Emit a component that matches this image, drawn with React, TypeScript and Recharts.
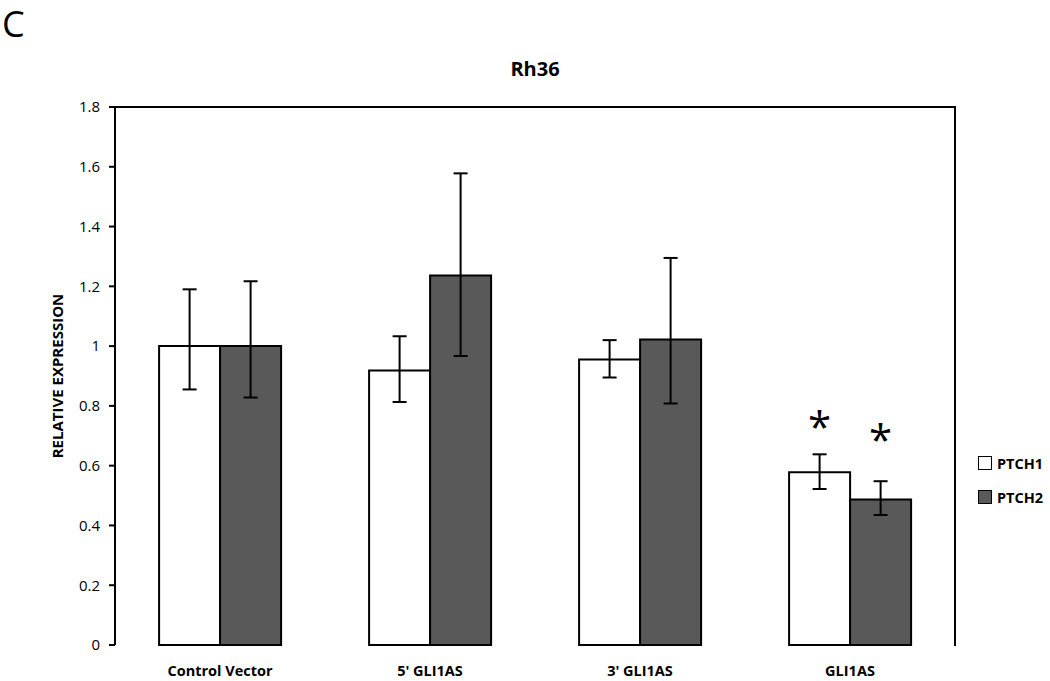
import React from "react";
import {
  ComposedChart,
  Bar,
  XAxis,
  YAxis,
  ErrorBar,
  LabelList,
  ReferenceLine,
} from "recharts";

const categories = ["Control Vector", "5' GLI1AS", "3' GLI1AS", "GLI1AS"];
const ptch1 = [1.0, 0.918, 0.955, 0.578];
const ptch1Low = [0.855, 0.813, 0.895, 0.522];
const ptch1High = [1.19, 1.033, 1.02, 0.638];
const ptch2 = [1.0, 1.236, 1.022, 0.487];
const ptch2Low = [0.828, 0.967, 0.808, 0.435];
const ptch2High = [1.217, 1.578, 1.295, 0.548];
const ptch1Mark = ["", "", "", "*"];
const ptch2Mark = ["", "", "", "*"];
const ptch1MarkAt = [0, 0, 0, 0.74];
const ptch2MarkAt = [0, 0, 0, 0.695];
const yTicks = [0, 0.2, 0.4, 0.6, 0.8, 1, 1.2, 1.4, 1.6, 1.8];
const boundaryTicks = [0, 1, 2, 3, 4];
const seriesNames = ["PTCH1", "PTCH2"];
const seriesFills = ["#ffffff", "#595959"];

const data = categories.map((c, i) => ({
  name: c,
  PTCH1: ptch1[i],
  PTCH2: ptch2[i],
  err1: [ptch1[i] - ptch1Low[i], ptch1High[i] - ptch1[i]],
  err2: [ptch2[i] - ptch2Low[i], ptch2High[i] - ptch2[i]],
}));

const FONT = "'Open Sans', 'Liberation Sans', sans-serif";

const makeMark = (marks: string[], at: number[], values: number[]) => (props: any) => {
  const { x, y, width, height, index } = props;
  const m = marks[index];
  if (!m) return null;
  const pxPerUnit = height / values[index];
  const cy = y + height - at[index] * pxPerUnit;
  return (
    <text
      x={x + width / 2}
      y={cy + 18}
      textAnchor="middle"
      fontSize={42}
      fontFamily={FONT}
      fill="#000"
    >
      {m}
    </text>
  );
};

export default function App() {
  return (
    <div style={{ position: "relative", width: 1050, height: 681, background: "#fff" }}>
      <style>{"body{margin:0;}"}</style>
      <div
        style={{
          position: "absolute",
          left: 2,
          top: 4,
          fontFamily: FONT,
          fontSize: 36,
          lineHeight: "40px",
          color: "#000",
        }}
      >
        C
      </div>
      <div
        style={{
          position: "absolute",
          left: 435,
          width: 200,
          top: 55,
          textAlign: "center",
          fontFamily: FONT,
          fontWeight: 700,
          fontSize: 20,
          color: "#000",
        }}
      >
        Rh36
      </div>
      <div
        style={{
          position: "absolute",
          left: 978,
          top: 446,
          fontFamily: FONT,
          fontWeight: 700,
          fontSize: 14.5,
          color: "#000",
        }}
      >
        {seriesNames.map((n, i) => (
          <div key={n} style={{ display: "flex", alignItems: "center", height: 34 }}>
            <div
              style={{
                width: 12,
                height: 12,
                border: "1.5px solid #000",
                background: seriesFills[i],
                marginRight: 5,
              }}
            />
            <span>{n}</span>
          </div>
        ))}
      </div>
      <div
        style={{
          position: "absolute",
          left: 954,
          top: 106,
          width: 2,
          height: 540,
          background: "#000",
        }}
      />
      <ComposedChart
        width={1050}
        height={681}
        data={data}
        margin={{ top: 107, right: 95, bottom: 0, left: 0 }}
        barCategoryGap="21%"
        barGap={0}
      >
        <XAxis
          xAxisId="ticks"
          type="number"
          domain={[0, 4]}
          ticks={boundaryTicks}
          height={0}
          tick={false}
          tickSize={6}
          tickLine={{ stroke: "#000", strokeWidth: 2 }}
          axisLine={{ stroke: "#000", strokeWidth: 2 }}
        />
        <XAxis
          xAxisId="cat"
          dataKey="name"
          height={36}
          axisLine={false}
          tickLine={false}
          tickMargin={15}
          tick={{ fill: "#000", fontFamily: FONT, fontWeight: 700, fontSize: 14.5 }}
        />
        <YAxis
          domain={[0, 1.8]}
          ticks={yTicks}
          width={115}
          tickSize={6}
          tickMargin={9}
          tickLine={{ stroke: "#000", strokeWidth: 2 }}
          axisLine={{ stroke: "#000", strokeWidth: 2 }}
          tick={{ fill: "#000", fontFamily: FONT, fontSize: 15 }}
          label={{
            value: "RELATIVE EXPRESSION",
            angle: -90,
            position: "insideLeft",
            offset: 0,
            content: (p: any) => {
              const vb = p.viewBox;
              const cx = 57;
              const cy = vb.y + vb.height / 2;
              return (
                <text
                  x={cx}
                  y={cy}
                  transform={`rotate(-90 ${cx} ${cy})`}
                  textAnchor="middle"
                  dominantBaseline="central"
                  fontFamily={FONT}
                  fontWeight={700}
                  fontSize={15}
                  fill="#000"
                >
                  RELATIVE EXPRESSION
                </text>
              );
            },
          }}
        />
        <ReferenceLine y={1.8} stroke="#000" strokeWidth={2} ifOverflow="visible" />
        <Bar
          xAxisId="cat"
          dataKey="PTCH1"
          fill={seriesFills[0]}
          stroke="#000"
          strokeWidth={2}
          isAnimationActive={false}
        >
          <ErrorBar dataKey="err1" width={7} stroke="#000" strokeWidth={2} />
          <LabelList content={makeMark(ptch1Mark, ptch1MarkAt, ptch1)} />
        </Bar>
        <Bar
          xAxisId="cat"
          dataKey="PTCH2"
          fill={seriesFills[1]}
          stroke="#000"
          strokeWidth={2}
          isAnimationActive={false}
        >
          <ErrorBar dataKey="err2" width={7} stroke="#000" strokeWidth={2} />
          <LabelList content={makeMark(ptch2Mark, ptch2MarkAt, ptch2)} />
        </Bar>
      </ComposedChart>
    </div>
  );
}
